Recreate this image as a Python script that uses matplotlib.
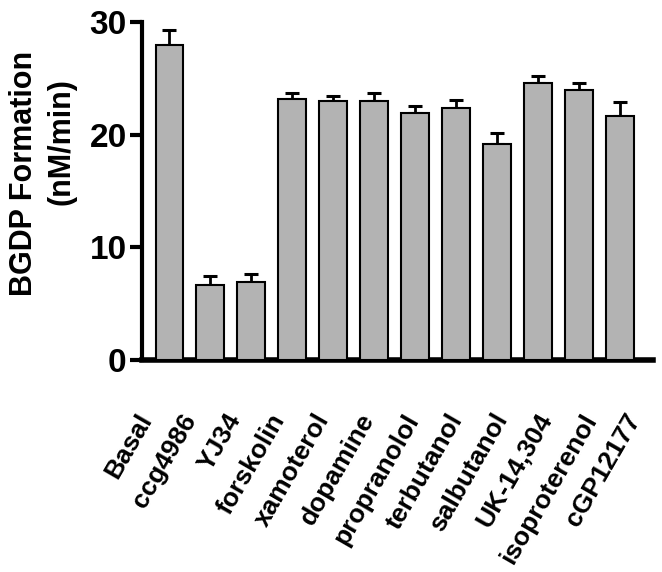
import matplotlib
matplotlib.use("Agg")
import matplotlib.pyplot as plt
import matplotlib.transforms as mtransforms
import numpy as np

plt.rcParams['font.family'] = ['Liberation Sans', 'DejaVu Sans']
plt.rcParams['font.weight'] = 'bold'

# Data
labels = ['Basal', 'ccg4986', 'YJ34', 'forskolin', 'xamoterol', 'dopamine',
          'propranolol', 'terbutanol', 'salbutanol', 'UK-14,304',
          'isoproterenol', 'cGP12177']
rates = [28.0, 6.7, 6.9, 23.15, 23.0, 22.95, 21.9, 22.4, 19.2, 24.55, 24.0, 21.65]
sem = [1.3, 0.77, 0.7, 0.53, 0.45, 0.72, 0.68, 0.69, 0.95, 0.65, 0.58, 1.22]

fig = plt.figure(figsize=(6.62, 5.72), dpi=100)
ax = fig.add_axes([0.2145, 0.3706, 0.7715, 0.591])

x = np.arange(len(labels))
ax.bar(x, rates, width=0.68, color='#b3b3b3', edgecolor='black',
       linewidth=1.5, zorder=3)
# upward error bars only
ax.errorbar(x, rates, yerr=[np.zeros(len(sem)), sem], fmt='none',
            ecolor='black', elinewidth=2, capsize=5, capthick=2.2, zorder=2)

ax.set_xlim(-0.67, 11.8)
ax.set_ylim(0, 30)
ax.set_yticks([0, 10, 20, 30])

for side in ['top', 'right']:
    ax.spines[side].set_visible(False)
ax.spines['left'].set_linewidth(3)
ax.spines['bottom'].set_linewidth(4)

ax.tick_params(axis='y', length=9, width=3, pad=2, labelsize=24)
ax.tick_params(axis='x', length=0, pad=40, labelsize=19)
ax.set_xticks(x)
ax.set_xticklabels(labels, rotation=60, ha='right', va='center',
                   rotation_mode='anchor', fontweight='bold')
for lab in ax.get_yticklabels():
    lab.set_fontweight('bold')

# labels in the reference fan out slightly wider than the bars
for i, lab in enumerate(ax.get_xticklabels()):
    dx = (-4 + 3.5 * (i - 5.5)) / 100.0
    lab.set_transform(lab.get_transform() +
                      mtransforms.ScaledTranslation(dx, 0, fig.dpi_scale_trans))

# y-axis title: two lines, offset from each other as in the reference
fig.text(24 / 662, 1 - 173 / 572, 'BGDP Formation', rotation=90,
         ha='center', va='center', fontsize=22, fontweight='bold')
fig.text(61 / 662, 1 - 142 / 572, '(nM/min)', rotation=90,
         ha='center', va='center', fontsize=22, fontweight='bold')

fig.savefig('out.png', dpi=100)
